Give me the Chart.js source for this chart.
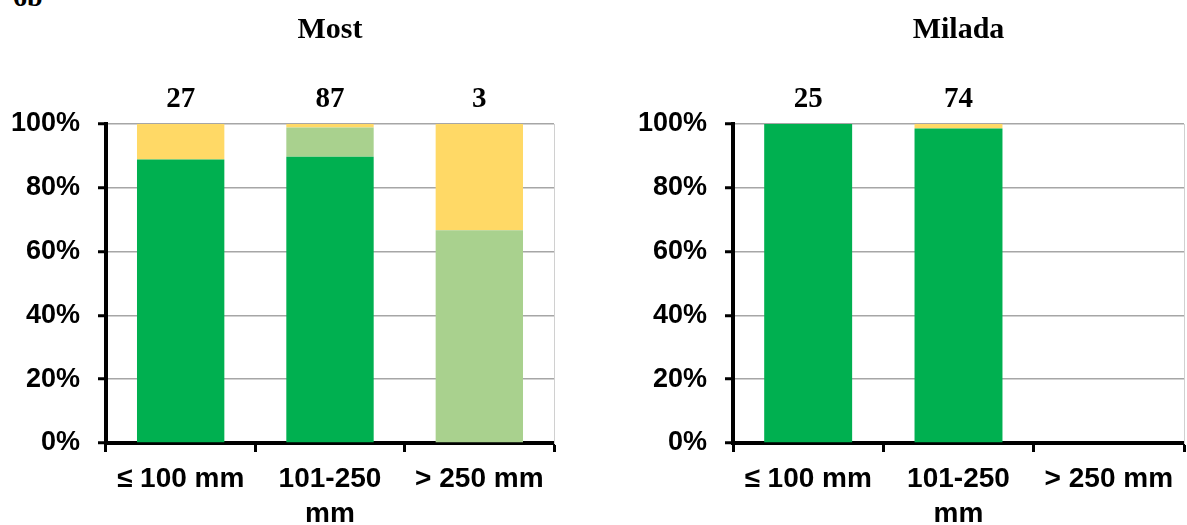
<!DOCTYPE html>
<html>
<head>
<meta charset="utf-8">
<script src="https://cdn.jsdelivr.net/npm/chart.js@4/dist/chart.umd.min.js"></script>
<style>
  html, body { margin: 0; padding: 0; background: #fff; }
  body { width: 1187px; height: 525px; position: relative; overflow: hidden; }
  .panel { position: absolute; top: 0; height: 525px; }
  #tag { position: absolute; left: 13px; top: -17px; font: bold 28px "Liberation Serif", serif; line-height: 28px; }
</style>
</head>
<body>
<div id="tag">6b</div>
<div class="panel" style="left:0;width:590px"><canvas id="most"></canvas></div>
<div class="panel" style="left:590px;width:597px"><canvas id="milada"></canvas></div>
<script>
const categories = ['≤ 100 mm', ['101-250', 'mm'], '> 250 mm'];
const seriesNames = ['Class 1', 'Class 2', 'Class 3'];
const seriesColors = ['#00B050', '#A9D18E', '#FFD966'];

// percentages per size class
const mostDark = [88.9, 89.7, 0];
const mostLight = [0, 9.2, 66.7];
const mostYellow = [11.1, 1.1, 33.3];
const mostCounts = ['27', '87', '3'];

const miladaDark = [100, 98.6, 0];
const miladaLight = [0, 0, 0];
const miladaYellow = [0, 1.4, 0];
const miladaCounts = ['25', '74', ''];

const yTicks = [0, 20, 40, 60, 80, 100];

const sans = '"Liberation Sans", Arial, sans-serif';
const serif = '"Liberation Serif", "Times New Roman", serif';

function makeChart(id, title, series, counts, axisWidth, padRight) {
  return new Chart(document.getElementById(id), {
    type: 'bar',
    data: {
      labels: categories,
      datasets: series.map((vals, i) => ({
        label: seriesNames[i],
        data: vals,
        backgroundColor: seriesColors[i],
        borderWidth: 0,
        barPercentage: 0.585,
        categoryPercentage: 1
      }))
    },
    options: {
      responsive: true,
      maintainAspectRatio: false,
      animation: false,
      layout: { padding: { left: 0, right: padRight, top: 0, bottom: 0 } },
      plugins: {
        legend: { display: false },
        tooltip: { enabled: false },
        title: {
          display: true,
          text: title,
          fullSize: false,
          color: '#000',
          font: { family: serif, size: 30, weight: 'bold', lineHeight: 1.2 },
          padding: { top: 12, bottom: 8 }
        }
      },
      scales: {
        x: {
          stacked: true,
          grid: { display: true, drawOnChartArea: false, drawTicks: true, tickLength: 9, tickColor: '#000', tickWidth: 3, offset: true },
          border: { display: true, color: '#000', width: 4 },
          ticks: { color: '#000', font: { family: sans, size: 28, weight: 'bold', lineHeight: 1.25 }, padding: 10, maxRotation: 0, autoSkip: false },
          afterFit(scale) { scale.height = 82; }
        },
        counts: {
          type: 'category',
          position: 'top',
          labels: counts,
          grid: { display: false },
          border: { display: false },
          ticks: { color: '#000', font: { family: serif, size: 29, weight: 'bold' }, padding: -1 },
          afterFit(scale) { scale.height = 68; }
        },
        y: {
          stacked: true,
          min: 0,
          max: 100,
          afterBuildTicks(scale) { scale.ticks = yTicks.map(v => ({ value: v })); },
          grid: { color: '#A6A6A6', lineWidth: 1.5, tickColor: '#000', tickWidth: 3, tickLength: 8 },
          border: { display: true, color: '#000', width: 4 },
          ticks: { color: '#000', font: { family: sans, size: 27, weight: 'bold' }, padding: 18, callback: v => v + '%' },
          afterFit(scale) { scale.width = axisWidth; }
        },
        edge: {
          position: 'right',
          grid: { display: false },
          border: { display: true, color: '#D0D0D0', width: 1 },
          ticks: { display: false },
          afterFit(scale) { scale.width = 1; }
        }
      }
    }
  });
}

makeChart('most', 'Most', [mostDark, mostLight, mostYellow], mostCounts, 106, 35);
makeChart('milada', 'Milada', [miladaDark, miladaLight, miladaYellow], miladaCounts, 143, 2);
</script>
</body>
</html>
